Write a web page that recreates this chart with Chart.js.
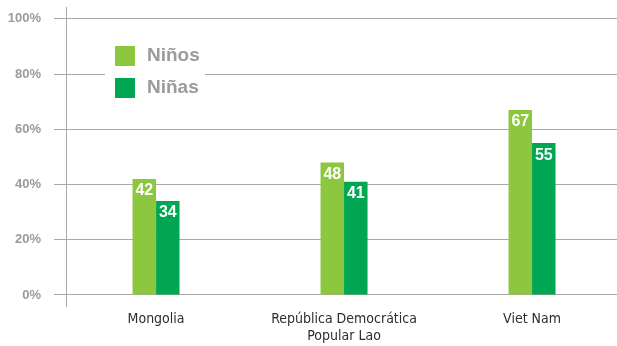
<!DOCTYPE html>
<html>
<head>
<meta charset="utf-8">
<script src="https://cdn.jsdelivr.net/npm/chart.js@4"></script>
<style>
  html, body { margin: 0; padding: 0; background: #fff; }
  #wrap { width: 617px; height: 346px; }
</style>
</head>
<body>
<div id="wrap"><canvas id="chart"></canvas></div>
<script>
const categories = ['Mongolia', 'República Democrática\nPopular Lao', 'Viet Nam'];
const ninos = [42, 48, 67];
const ninas = [34, 41, 55];
const yTicks = [0, 20, 40, 60, 80, 100];

const GREEN_LIGHT = '#8dc63f';
const GREEN_DARK = '#00a651';
const GRID = '#a8a8a8';

const toPoints = vals => vals.map((v, i) => ({ x: i, y: v }));

// value labels in white at the top inside each bar
const barValues = {
  id: 'barValues',
  afterDatasetsDraw(chart) {
    const ctx = chart.ctx;
    ctx.save();
    ctx.fillStyle = '#fff';
    ctx.font = 'bold 16px "Liberation Sans", Arial, sans-serif';
    ctx.textAlign = 'center';
    ctx.textBaseline = 'middle';
    chart.data.datasets.forEach((ds, di) => {
      chart.getDatasetMeta(di).data.forEach((bar, i) => {
        ctx.fillText(String(ds.data[i].y), bar.x, bar.y + 12);
      });
    });
    ctx.restore();
  }
};

// legend sitting inside the plot on a white patch
const innerLegend = {
  id: 'innerLegend',
  afterDatasetsDraw(chart) {
    const ctx = chart.ctx;
    ctx.save();
    ctx.fillStyle = '#fff';
    ctx.fillRect(105, 40, 100, 64);
    ctx.font = 'bold 19px "Liberation Sans", Arial, sans-serif';
    ctx.textBaseline = 'middle';
    chart.data.datasets.forEach((ds, i) => {
      const y = 46 + i * 32;
      ctx.fillStyle = ds.backgroundColor;
      ctx.fillRect(115, y, 20, 20);
      ctx.fillStyle = '#9b9b9b';
      ctx.fillText(ds.label, 147, y + 10);
    });
    ctx.restore();
  }
};

new Chart(document.getElementById('chart'), {
  type: 'bar',
  data: {
    datasets: [
      { label: 'Niños', data: toPoints(ninos), backgroundColor: GREEN_LIGHT },
      { label: 'Niñas', data: toPoints(ninas), backgroundColor: GREEN_DARK }
    ]
  },
  options: {
    responsive: true,
    maintainAspectRatio: false,
    animation: false,
    layout: { padding: { top: 7, right: 0, left: 0, bottom: 0 } },
    categoryPercentage: 0.25,
    barPercentage: 1,
    plugins: {
      legend: { display: false },
      tooltip: { enabled: false }
    },
    scales: {
      x: {
        type: 'linear',
        min: -0.479,
        max: 2.452,
        offset: false,
        grid: { display: false, drawTicks: false },
        border: { display: false },
        afterBuildTicks: s => { s.ticks = categories.map((c, i) => ({ value: i })); },
        afterFit: s => { s.height = 40; s.paddingLeft = 0; s.paddingRight = 0; },
        ticks: {
          padding: 5,
          maxRotation: 0,
          autoSkip: false,
          color: '#2e2e2e',
          font: { family: '"DejaVu Sans Condensed", "Liberation Sans Narrow", sans-serif', size: 14 },
          callback: v => categories[v] ? categories[v].split('\n') : ''
        }
      },
      y: {
        min: -4.0,
        max: 104.3,
        afterBuildTicks: s => { s.ticks = yTicks.map(v => ({ value: v })); },
        afterFit: s => { s.width = 66; s.paddingTop = 0; s.paddingBottom = 0; },
        grid: { color: GRID, lineWidth: 1, tickLength: 12 },
        border: { display: true, color: GRID, width: 1 },
        ticks: {
          padding: 13,
          color: '#9b9b9b',
          font: { family: '"Liberation Sans", Arial, sans-serif', size: 13, weight: 'bold' },
          callback: v => v + '%'
        }
      }
    }
  },
  plugins: [barValues, innerLegend]
});
</script>
</body>
</html>
